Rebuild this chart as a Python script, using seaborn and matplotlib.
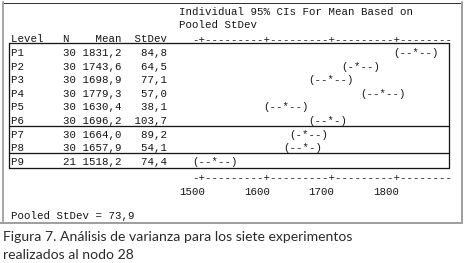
import matplotlib
matplotlib.use("Agg")
import matplotlib.pyplot as plt
import seaborn as sns

levels = ["P1", "P2", "P3", "P4", "P5", "P6", "P7", "P8", "P9"]
n_obs = [30, 30, 30, 30, 30, 30, 30, 30, 21]
means = [1831.2, 1743.6, 1698.9, 1779.3, 1630.4, 1696.2, 1664.0, 1657.9, 1518.2]
stdevs = [84.8, 64.5, 77.1, 57.0, 38.1, 103.7, 89.2, 54.1, 74.4]
ci_marks = ["(--*--)", "(-*--)", "(--*--)", "(--*--)", "(--*--)",
            "(--*-)", "(-*--)", "(--*-)", "(--*--)"]
axis_ticks = [1500, 1600, 1700, 1800]
pooled_sd = 73.9
title_lines = ["Individual 95% CIs For Mean Based on", "Pooled StDev"]
caption = ["Figura 7. Análisis de varianza para los siete experimentos",
           "realizados al nodo 28"]

### LAYOUT ###
W, H = 466, 263
PX0, PX1 = 202, 396          # pixel of 1500 and 1800 on the ruler
PPU = (PX1 - PX0) / 300      # pixels per data unit
CHAR = 10                    # one monospace char = 10 data units
MONO = "Liberation Mono"
MONO_SIZE = CHAR * PPU / 0.6 * 72 / 100
INK = "#161616"

row_y = [53 + 13.6 * i for i in range(len(levels))]
header_y = 38.5
ruler_top_y, ruler_bot_y, label_y = 39.5, 177.5, 192
pooled_y = 216


def col_x(col):
    # left edge of a monospace column, col 0 is the "+" of the first tick
    return axis_ticks[0] - CHAR / 2 + col * CHAR


def fmt(v):
    return f"{v:.1f}".replace(".", ",")


sns.set_theme(style="white")

fig = plt.figure(figsize=(W / 100, H / 100), dpi=100)
bg = fig.add_axes([0, 0, 1, 1])
bg.set_xlim(0, W)
bg.set_ylim(H, 0)
bg.axis("off")

ax = fig.add_axes([0, 0, 1, 1], sharey=bg)
ax.set_xlim(1500 - PX0 / PPU, 1500 + (W - PX0) / PPU)
ax.patch.set_alpha(0)
ax.axis("off")

# outer frame
px = 0.72
bg.plot([3, 462], [2.5, 2.5], color="#333333", lw=1 * px)
bg.plot([2.5, 2.5], [2, 223], color="#a8a8a8", lw=2 * px)
bg.plot([461.5, 461.5], [2, 223], color="#a0a0a0", lw=2 * px)
bg.plot([0, 462], [222.5, 222.5], color="#a0a0a0", lw=2 * px)

# inner table boxes
box_l, box_r = 8.5, 449
for y in [43, 126, 153, 168]:
    bg.plot([box_l, box_r], [y, y], color=INK, lw=1.3 * px)
for x in [box_l, box_r]:
    bg.plot([x, x], [43, 168], color=INK, lw=1.3 * px)

txt = dict(family=MONO, fontsize=MONO_SIZE, color=INK, va="center", ha="left")

# header text
for i, line in enumerate(title_lines):
    ax.text(col_x(-3), 12 + 13 * i, line, **txt)
header = f"{'Level':<8}{'N':<2} {'Mean':>6} {'StDev':>6}"
ax.text(col_x(-29), header_y, header, **txt)

# ruler lines
last_col = (axis_ticks[-1] - axis_ticks[0]) // CHAR + 8
ruler = "".join("+" if c % 10 == 0 else "-" for c in range(-1, last_col + 1))
for y in [ruler_top_y, ruler_bot_y]:
    ax.text(col_x(-1), y, ruler, **txt)
for t in axis_ticks:
    ax.text(t - CHAR / 2 - 3 * CHAR, label_y, str(t), **txt)

# table rows and CI marks
for y, lvl, n, m, s, mark in zip(row_y, levels, n_obs, means, stdevs, ci_marks):
    row = f"{lvl:<8}{n:>2} {fmt(m):>6} {fmt(s):>6}"
    ax.text(col_x(-29), y, row, **txt)
    star = axis_ticks[0] + CHAR * round((m - axis_ticks[0]) / CHAR)
    k = mark.index("*")
    ax.text(star - CHAR / 2 - k * CHAR, y, mark, **txt)

ax.text(col_x(-29), pooled_y, f"Pooled StDev = {fmt(pooled_sd)}", **txt)

# caption
for i, line in enumerate(caption):
    bg.text(3, 237 + 18 * i, line, family=["Lato", "DejaVu Sans"], fontsize=10.1,
            color="#2b2b2b", va="center", ha="left")

fig.savefig("out.png", dpi=100, facecolor="white")
